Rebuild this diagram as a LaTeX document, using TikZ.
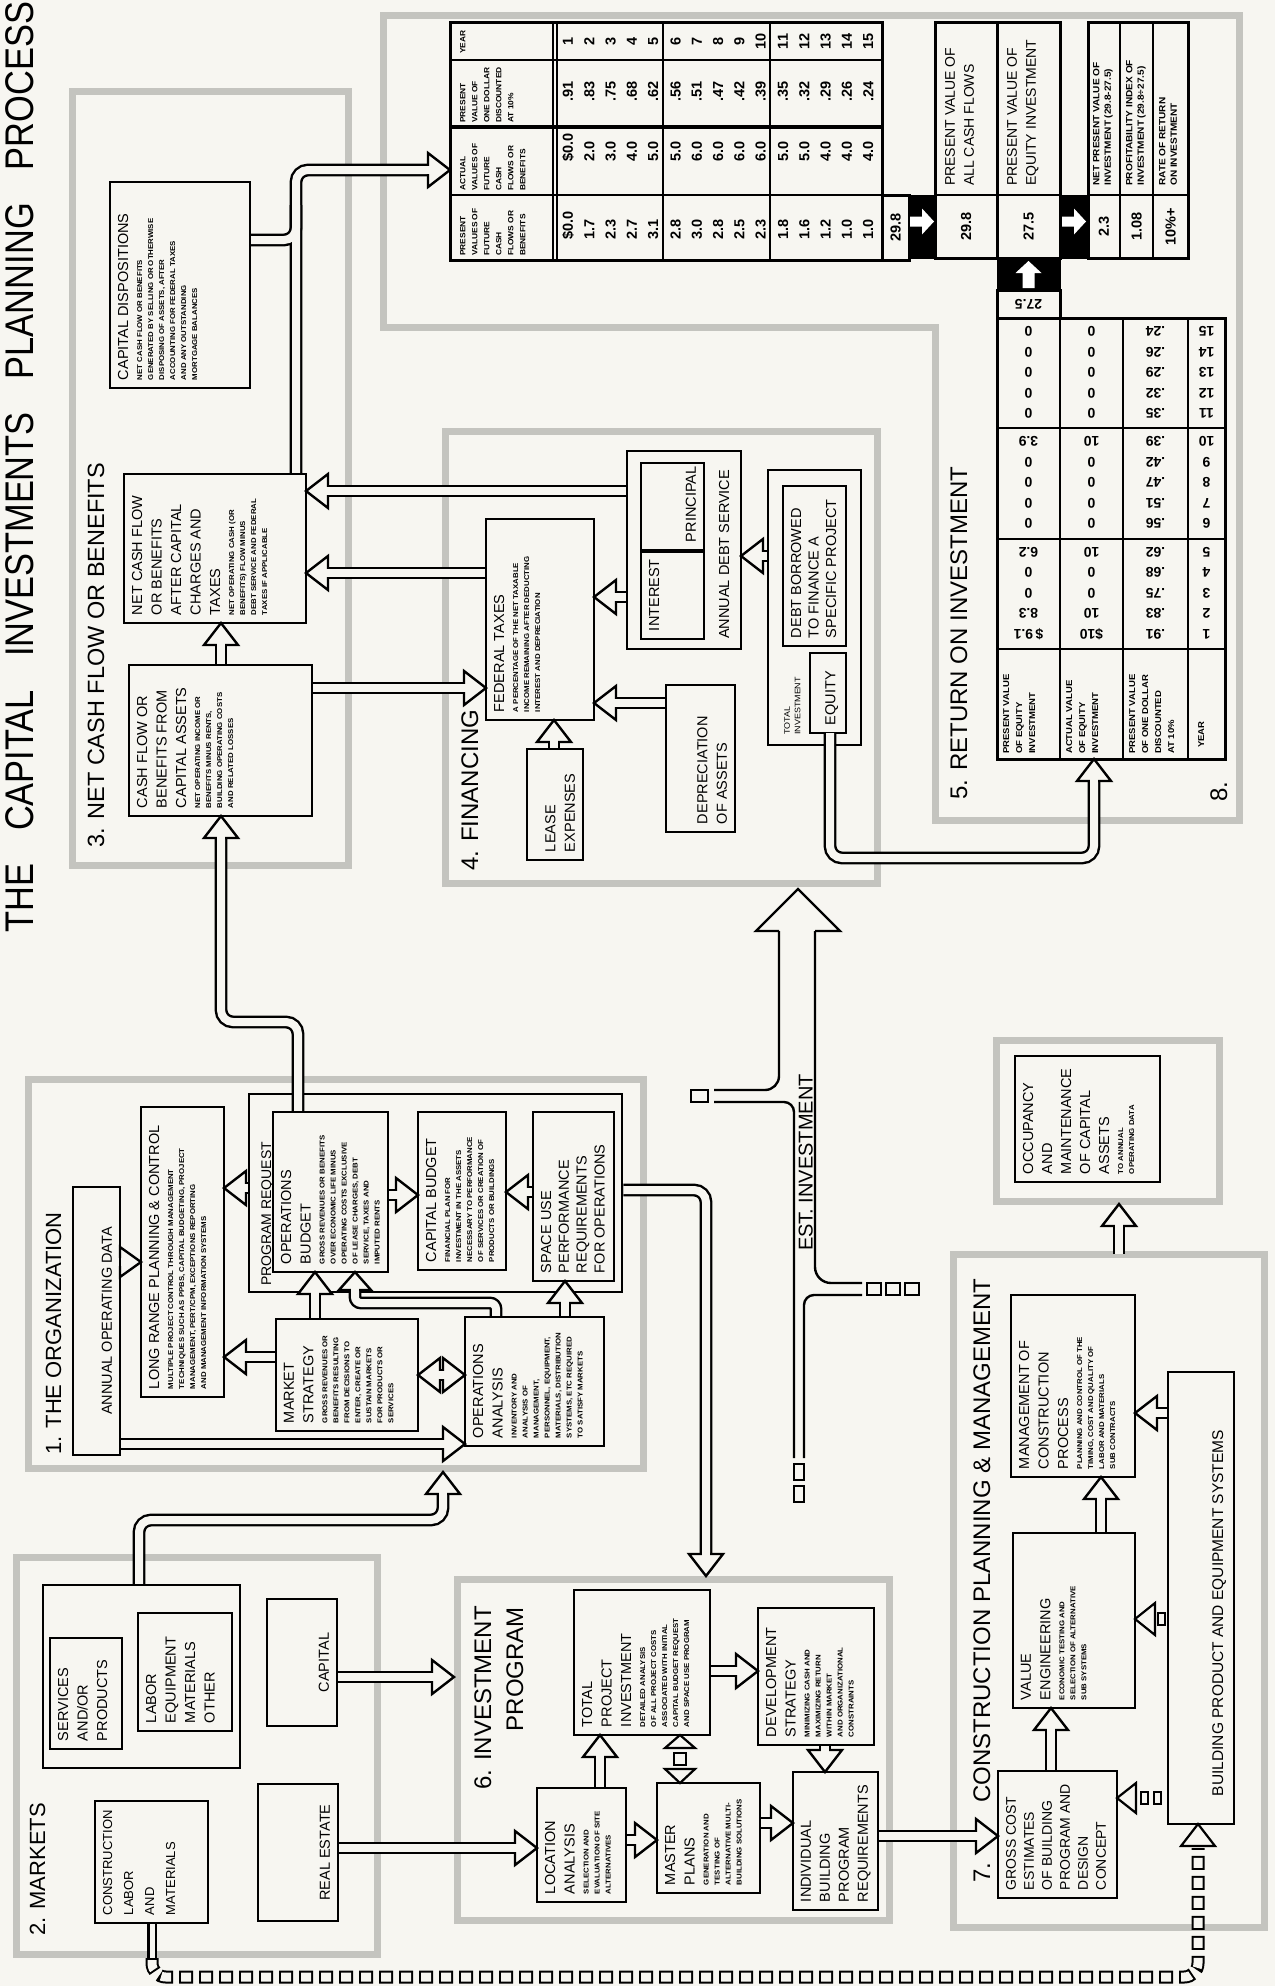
\documentclass[tikz,border=0pt]{standalone}
\usepackage{fontspec}
\setmainfont{Liberation Sans}
\newfontfamily\titlefont{Liberation Sans}[FakeStretch=0.86]
\newfontfamily\finefamily{Liberation Sans}[FakeStretch=1.12]
\usepackage{graphicx}
\usetikzlibrary{calc}

\newcommand{\hd}{\fontsize{14.5}{19.5}\selectfont}
\newcommand{\fine}{\par\vspace{3pt}\finefamily\bfseries\fontsize{7}{11}\selectfont}

% riquadro con testo ruotato: [stile]{nome}{x1}{y1}{x2}{y2}{testo}
\newcommand{\rbox}[7][]{%
  \pgfmathsetmacro\rw{#5-#3}%
  \pgfmathsetmacro\rh{#6-#4}%
  \node[box, #1, minimum width=\rw pt, minimum height=\rh pt] (#2)
    at ({(#3+#5)/2},{(#4+#6)/2})
    {\rotatebox{90}{\begin{minipage}[c][\dimexpr\rw pt-16pt\relax][t]{\dimexpr\rh pt-16pt\relax}%
     \raggedright\hd #7\end{minipage}}};}

% punta cava: {punta}{angolo}{lunghezza}{semilarghezza}
\newcommand{\ahead}[4]{%
  \begin{scope}[shift={#1}, rotate=#2]
    \draw[line width=2.4pt, fill=paper, line join=miter] (0,0) -- (-#3,-#4) -- (-#3,#4) -- cycle;
    \fill[paper] ({-#3-1.7},-3.8) rectangle ({-#3+1.7},3.8);
  \end{scope}}
\newcommand{\aheadc}[4]{%
  \begin{scope}[shift={#1}, rotate=#2]
    \draw[line width=2.2pt, fill=paper, line join=miter] (0,0) -- (-#3,-#4) -- (-#3,#4) -- cycle;
  \end{scope}}
% condotto diritto con punta
\newcommand{\parrow}[3]{%
  \draw[pipe] #1 -- ($#2!22pt!#1$);
  \ahead{#2}{#3}{22}{17}}

\begin{document}
\begin{tikzpicture}[x=1pt, y=-1pt,
    box/.style={draw=black, line width=2.6pt, fill=paper, inner sep=0pt, outer sep=0pt},
    thinbox/.style={line width=1.4pt},
    frame/.style={draw=framegray, line width=7pt, fill=none},
    tabbox/.style={box, line width=3pt},
    blk/.style={draw=black, fill=black, line width=1pt, inner sep=0pt, outer sep=0pt},
    lbl/.style={rotate=90, anchor=base west, inner sep=0pt, font=\fontsize{24}{24}\selectfont},
    pipe/.style={draw=black, line width=2.4pt, double=paper, double distance=8pt, rounded corners=12pt},
    pipeb/.style={draw=black, line width=12.8pt, rounded corners=12pt},
    pipew/.style={draw=paper, line width=8pt, rounded corners=12pt},
    sq/.style={draw=black, line width=2pt, fill=paper},
    chainb/.style={draw=black, line width=13pt, dash pattern=on 14pt off 6pt, rounded corners=14pt},
    chainw/.style={draw=paper, line width=9pt, dash pattern=on 10pt off 10pt, dash phase=18pt, rounded corners=14pt},
    hdrtxt/.style={rotate=90, anchor=north west, inner sep=0pt, align=left, font=\finefamily\bfseries\fontsize{7.5}{12}\selectfont},
    eqhdr/.style={hdrtxt, font=\finefamily\bfseries\fontsize{8.5}{13}\selectfont},
    restxt/.style={hdrtxt, font=\finefamily\bfseries\fontsize{9}{11.5}\selectfont},
    pvtxt/.style={rotate=90, anchor=north west, inner sep=0pt, align=left, font=\fontsize{14}{19}\selectfont},
    val/.style={rotate=90, inner sep=0pt, font=\bfseries\fontsize{14.5}{14.5}\selectfont},
    valdown/.style={rotate=180, inner sep=0pt, font=\bfseries\fontsize{14}{14}\selectfont}
  ]
  % Definizione colori
  \definecolor{paper}{RGB}{247,246,241}
  \definecolor{framegray}{RGB}{196,196,191}

  \useasboundingbox (0,0) rectangle (1275,1986);
  \fill[paper] (0,0) rectangle (1275,1986);

  % Cornici delle sezioni
  \rbox[frame]{f3}{72}{91}{348}{865}{}
  \rbox[frame]{f4}{445}{431}{877}{883}{}
  \rbox[frame]{f1}{28}{1079}{643}{1468}{}
  \rbox[frame]{f2}{16}{1557}{377}{1954}{}
  \rbox[frame]{f6}{457}{1579}{889}{1920}{}
  \rbox[frame]{f7}{953}{1254}{1264}{1927}{}
  \rbox[frame]{fo}{996}{1040}{1219}{1201}{}
  \draw[draw=framegray, line width=7pt, line join=miter] (383,15) -- (1239,15) -- (1239,820)
    -- (935,820) -- (935,327) -- (383,327) -- cycle;

  % Titolo e nomi delle sezioni
  \node[rotate=90, anchor=base west, inner sep=0pt, font={\titlefont\fontsize{40}{40}\selectfont}] (title)
    at (33,933) {\makebox[931pt][s]{THE\hfill CAPITAL\hfill INVESTMENTS\hfill PLANNING\hfill PROCESS}};
  \node[lbl, font=\fontsize{23.5}{24}\selectfont] (lab3) at (104,848) {3. NET CASH FLOW OR BENEFITS};
  \node[lbl] (lab4) at (478,871) {4. FINANCING};
  \node[lbl] (lab5) at (967,800) {5. RETURN ON INVESTMENT};
  \node[lbl] (lab8) at (1227,802) {8.};
  \node[lbl, font=\fontsize{22}{22}\selectfont] (lab1) at (61,1455) {1. THE ORGANIZATION};
  \node[lbl, font=\fontsize{22}{22}\selectfont] (lab2) at (45,1936) {2. MARKETS};
  \node[lbl] (lab6) at (491,1790) {6. INVESTMENT};
  \node[lbl, anchor=base east] (lab6b) at (523,1607) {PROGRAM};
  \node[lbl, font=\fontsize{24}{24}\selectfont] (lab7) at (990,1883) {7.};
  \node[lbl, font=\fontsize{24}{24}\selectfont] (lab7b) at (990,1803) {CONSTRUCTION PLANNING \& MANAGEMENT};

  % Sezione 3
  \rbox{capdisp}{110}{182}{250}{388}{CAPITAL DISPOSITIONS \fine NET CASH FLOW OR BENEFITS\\ GENERATED BY SELLING OR OTHERWISE\\ DISPOSING OF ASSETS, AFTER\\ ACCOUNTING FOR FEDERAL TAXES\\ AND ANY OUTSTANDING\\ MORTGAGE BALANCES}
  \rbox{netflow}{124}{474}{306}{623}{NET CASH FLOW\\ OR BENEFITS\\ AFTER CAPITAL\\ CHARGES AND\\ TAXES \fine NET OPERATING CASH (OR\\ BENEFITS) FLOW MINUS\\ DEBT SERVICE AND FEDERAL\\ TAXES IF APPLICABLE}
  \rbox{cashflow}{129}{665}{312}{816}{CASH FLOW OR\\ BENEFITS FROM\\ CAPITAL ASSETS \fine NET OPERATING INCOME OR\\ BENEFITS MINUS RENTS,\\ BUILDING OPERATING COSTS\\ AND RELATED LOSSES}

  % Sezione 4
  \rbox{fedtax}{486}{519}{594}{720}{FEDERAL TAXES \fine A PERCENTAGE OF THE NET TAXABLE\\ INCOME REMAINING AFTER DEDUCTING\\ INTEREST AND DEPRECIATION}
  \rbox{lease}{527}{749}{583}{860}{\vfill LEASE\\ EXPENSES\vfill}
  \rbox{debtserv}{627}{451}{741}{649}{}
  \rbox[thinbox]{interest}{641}{552}{704}{639}{INTEREST}
  \rbox[thinbox]{principal}{641}{463}{704}{550}{\vfill PRINCIPAL}
  \node[lbl, font=\hd] (dslab) at (729,639) {ANNUAL DEBT SERVICE};
  \rbox{deprec}{666}{685}{735}{832}{\vfill DEPRECIATION\\ OF ASSETS\vfill}
  \rbox{totinv}{768}{470}{861}{745}{}
  \rbox[thinbox]{debt}{783}{486}{846}{646}{\fontsize{14.5}{17.5}\selectfont DEBT BORROWED\\ TO FINANCE A\\ SPECIFIC PROJECT}
  \rbox[thinbox]{equity}{810}{653}{846}{733}{\vfill EQUITY\vfill}
  \node[rotate=90, anchor=north west, inner sep=0pt, align=left, font=\finefamily\fontsize{8}{10.5}\selectfont] (totlab)
    at (784,735) {TOTAL\\ INVESTMENT};

  % Sezione 5: tabella dei flussi futuri
  \node[tabbox, minimum width=432pt, minimum height=238pt] (cftable) at (666,141) {};
  \foreach \xx in {553,557,663,770} \draw[line width=2pt] (\xx,0 |- cftable.north) -- (\xx,0 |- cftable.south);
  \foreach \yy in {60,195} \draw[line width=2pt] (cftable.west |- 0,\yy) -- (cftable.east |- 0,\yy);
  \draw[line width=3.2pt] (cftable.west |- 0,127) -- (cftable.east |- 0,127);
  \node[hdrtxt] (hyear) at (460,54) {YEAR};
  \node[hdrtxt] (hpvd) at (460,123) {PRESENT\\ VALUE OF\\ ONE DOLLAR\\ DISCOUNTED\\ AT 10\%};
  \node[hdrtxt] (hact) at (460,191) {ACTUAL\\ VALUES OF\\ FUTURE\\ CASH\\ FLOWS OR\\ BENEFITS};
  \node[hdrtxt] (hpvf) at (460,256) {PRESENT\\ VALUES OF\\ FUTURE\\ CASH\\ FLOWS OR\\ BENEFITS};
  \foreach \v [count=\i] in {\$0.0,1.7,2.3,2.7,3.1,2.8,3.0,2.8,2.5,2.3,1.8,1.6,1.2,1.0,1.0}{
    \pgfmathtruncatemacro\bb{(\i-1)/5}
    \pgfmathtruncatemacro\kk{\i-1-5*\bb}
    \node[val, anchor=west] (pvf\i) at ({568+107.5*\bb+21.3*\kk},240) {\v};}
  \foreach \v [count=\i] in {\$0.0,2.0,3.0,4.0,5.0,5.0,6.0,6.0,6.0,6.0,5.0,5.0,4.0,4.0,4.0}{
    \pgfmathtruncatemacro\bb{(\i-1)/5}
    \pgfmathtruncatemacro\kk{\i-1-5*\bb}
    \node[val, anchor=west] (act\i) at ({568+107.5*\bb+21.3*\kk},162) {\v};}
  \foreach \v [count=\i] in {.91,.83,.75,.68,.62,.56,.51,.47,.42,.39,.35,.32,.29,.26,.24}{
    \pgfmathtruncatemacro\bb{(\i-1)/5}
    \pgfmathtruncatemacro\kk{\i-1-5*\bb}
    \node[val, anchor=west] (pvd\i) at ({568+107.5*\bb+21.3*\kk},102) {\v};}
  \foreach \i in {1,...,15}{
    \pgfmathtruncatemacro\bb{(\i-1)/5}
    \pgfmathtruncatemacro\kk{\i-1-5*\bb}
    \node[val] (yr\i) at ({568+107.5*\bb+21.3*\kk},41.5) {\i};}

  % Sezione 5: riepilogo
  \node[tabbox, minimum width=27pt, minimum height=65pt, font=\bfseries\fontsize{14.5}{14.5}\selectfont] (c298) at (895.5,227.5) {\rotatebox{90}{29.8}};
  \node[blk, minimum width=26pt, minimum height=63pt] (blk1) at (922,226.5) {};
  \node[tabbox, minimum width=62pt, minimum height=236pt] (pvall) at (966,140) {};
  \node[tabbox, minimum width=63pt, minimum height=236pt] (pveq) at (1028.5,140) {};
  \node[blk, minimum width=28pt, minimum height=63pt] (blk2) at (1074,226.5) {};
  \node[tabbox, minimum width=100pt, minimum height=236pt] (results) at (1138,140) {};
  \draw[line width=2pt] (pvall.west |- 0,195) -- (pveq.east |- 0,195);
  \draw[line width=2pt] (results.west |- 0,195) -- (results.east |- 0,195);
  \foreach \xx in {1120,1153} \draw[line width=2pt] (\xx,0 |- results.north) -- (\xx,0 |- results.south);
  \node[pvtxt] (pvalllab) at (945,186) {PRESENT VALUE OF\\ ALL CASH FLOWS};
  \node[val] (pvallval) at (966,226.5) {29.8};
  \node[pvtxt] (pveqlab) at (1007,186) {PRESENT VALUE OF\\ EQUITY INVESTMENT};
  \node[val] (pveqval) at (1028.5,226.5) {27.5};
  \node[restxt] (npvlab) at (1093,186) {NET PRESENT VALUE OF\\ INVESTMENT (29.8-27.5)};
  \node[restxt] (pilab) at (1126,186) {PROFITABILITY INDEX OF\\ INVESTMENT (29.8÷27.5)};
  \node[restxt] (rrlab) at (1159,186) {RATE OF RETURN\\ ON INVESTMENT};
  \node[val] (npvval) at (1104,226.5) {2.3};
  \node[val] (pival) at (1136.5,226.5) {1.08};
  \node[val] (rrval) at (1170.5,226.5) {10\%+};
  \node[blk, minimum width=63pt, minimum height=32pt] (blk3) at (1028.5,274) {};
  \node[tabbox, minimum width=63pt, minimum height=28pt, font=\bfseries\fontsize{14}{14}\selectfont] (eq275) at (1028.5,304) {\rotatebox{180}{27.5}};
  \fill[white, shift={(blk1.center)}] (-12,-10) -- (0,-10) -- (0,-18) -- (12,-5) -- (0,8) -- (0,0) -- (-12,0) -- cycle;
  \fill[white, shift={(blk2.center)}] (-12,-10) -- (0,-10) -- (0,-18) -- (12,-5) -- (0,8) -- (0,0) -- (-12,0) -- cycle;
  \fill[white, shift={(blk3.center)}] (-6,14) -- (-6,-1) -- (-13,-1) -- (0,-13) -- (13,-1) -- (6,-1) -- (6,14) -- cycle;

  % Sezione 5: tabella del capitale proprio
  \node[tabbox, minimum width=228pt, minimum height=441pt] (eqtable) at (1111,538.5) {};
  \foreach \xx in {1060,1123,1188} \draw[line width=2pt] (\xx,0 |- eqtable.north) -- (\xx,0 |- eqtable.south);
  \foreach \yy in {428,539,649} \draw[line width=2pt] (eqtable.west |- 0,\yy) -- (eqtable.east |- 0,\yy);
  \node[eqhdr] (epve) at (1003,754) {PRESENT VALUE\\ OF EQUITY\\ INVESTMENT};
  \node[eqhdr] (eact) at (1066,754) {ACTUAL VALUE\\ OF EQUITY\\ INVESTMENT};
  \node[eqhdr] (epvd) at (1129,754) {PRESENT VALUE\\ OF ONE DOLLAR\\ DISCOUNTED\\ AT 10\%};
  \node[eqhdr] (eyear) at (1198,748) {YEAR};
  \foreach \v [count=\i] in {\$\,9.1,8.3,0,0,6.2,0,0,0,0,3.9,0,0,0,0,0}{
    \pgfmathtruncatemacro\bb{(\i-1)/5}
    \pgfmathtruncatemacro\kk{\i-1-5*\bb}
    \node[valdown] (pve\i) at (1028.5,{634-110.3*\bb-20.5*\kk}) {\v};}
  \foreach \v [count=\i] in {\$10,10,0,0,10,0,0,0,0,10,0,0,0,0,0}{
    \pgfmathtruncatemacro\bb{(\i-1)/5}
    \pgfmathtruncatemacro\kk{\i-1-5*\bb}
    \node[valdown] (ave\i) at (1091.5,{634-110.3*\bb-20.5*\kk}) {\v};}
  \foreach \v [count=\i] in {.91,.83,.75,.68,.62,.56,.51,.47,.42,.39,.35,.32,.29,.26,.24}{
    \pgfmathtruncatemacro\bb{(\i-1)/5}
    \pgfmathtruncatemacro\kk{\i-1-5*\bb}
    \node[valdown] (dve\i) at (1155.5,{634-110.3*\bb-20.5*\kk}) {\v};}
  \foreach \i in {1,...,15}{
    \pgfmathtruncatemacro\bb{(\i-1)/5}
    \pgfmathtruncatemacro\kk{\i-1-5*\bb}
    \node[valdown] (eyr\i) at (1206.5,{634-110.3*\bb-20.5*\kk}) {\i};}

  % Sezione 1
  \rbox{aod}{73}{1187}{120}{1455}{\vfill\centering ANNUAL OPERATING DATA\vfill}
  \rbox{lrp}{141}{1107}{224}{1397}{LONG RANGE PLANNING \& CONTROL \fine MULTIPLE PROJECT CONTROL THROUGH MANAGEMENT\\ TECHNIQUES SUCH AS PPBS, CAPITAL BUDGETING, PROJECT\\ MANAGEMENT, PERT/CPM, EXCEPTIONS REPORTING\\ AND MANAGEMENT INFORMATION SYSTEMS}
  \rbox{preq}{249}{1094}{622}{1292}{}
  \node[lbl, font=\fontsize{14}{14}\selectfont] (preqlab) at (271,1286) {PROGRAM REQUEST};
  \rbox{opbudget}{273}{1112}{388}{1272}{OPERATIONS\\ BUDGET \fine GROSS REVENUES OR BENEFITS\\ OVER ECONOMIC LIFE MINUS\\ OPERATING COSTS EXCLUSIVE\\ OF LEASE CHARGES, DEBT\\ SERVICE, TAXES AND\\ IMPUTED RENTS}
  \rbox{capbudget}{418}{1112}{506}{1270}{CAPITAL BUDGET \fine FINANCIAL PLAN FOR\\ INVESTMENT IN THE ASSETS\\ NECESSARY TO PERFORMANCE\\ OF SERVICES OR CREATION OF\\ PRODUCTS OR BUILDINGS}
  \rbox{spaceuse}{533}{1112}{614}{1281}{\fontsize{14.5}{17.8}\selectfont SPACE USE\\ PERFORMANCE\\ REQUIREMENTS\\ FOR OPERATIONS}
  \rbox{mktstrat}{276}{1319}{418}{1431}{MARKET\\ STRATEGY \fine GROSS REVENUES OR\\ BENEFITS RESULTING\\ FROM DECISIONS TO\\ ENTER, CREATE OR\\ SUSTAIN MARKETS\\ FOR PRODUCTS OR\\ SERVICES}
  \rbox{opanalysis}{465}{1317}{604}{1446}{OPERATIONS\\ ANALYSIS \fine INVENTORY AND\\ ANALYSIS OF\\ MANAGEMENT,\\ PERSONNEL, EQUIPMENT,\\ MATERIALS, DISTRIBUTION\\ SYSTEMS, ETC REQUIRED\\ TO SATISFY MARKETS}

  % Sezione 2
  \rbox{svcouter}{43}{1585}{240}{1768}{}
  \rbox[thinbox]{services}{50}{1638}{122}{1749}{SERVICES\\ AND/OR\\ PRODUCTS}
  \rbox[thinbox]{labor}{138}{1613}{232}{1731}{LABOR\\ EQUIPMENT\\ MATERIALS\\ OTHER}
  \rbox{capital}{267}{1599}{337}{1726}{\vfill\centering CAPITAL\vfill}
  \rbox{realest}{258}{1784}{338}{1921}{\vfill\centering REAL ESTATE\vfill}
  \rbox{constr}{95}{1801}{208}{1923}{\fontsize{13}{21}\selectfont CONSTRUCTION\\ LABOR\\ AND\\ MATERIALS}

  % Sezione 6
  \rbox{totproj}{574}{1590}{710}{1735}{TOTAL\\ PROJECT\\ INVESTMENT \fine DETAILED ANALYSIS\\ OF ALL PROJECT COSTS\\ ASSOCIATED WITH INITIAL\\ CAPITAL BUDGET REQUEST\\ AND SPACE USE PROGRAM}
  \rbox{devstrat}{758}{1608}{874}{1745}{DEVELOPMENT\\ STRATEGY \fine MINIMIZING CASH AND\\ MAXIMIZING RETURN\\ WITHIN MARKET\\ AND ORGANIZATIONAL\\ CONSTRAINTS}
  \rbox{location}{537}{1788}{626}{1902}{LOCATION\\ ANALYSIS \fine SELECTION AND\\ EVALUATION OF SITE\\ ALTERNATIVES}
  \rbox{masterpl}{657}{1783}{760}{1893}{MASTER\\ PLANS \fine GENERATION AND\\ TESTING OF\\ ALTERNATIVE MULTI-\\ BUILDING SOLUTIONS}
  \rbox{indbuild}{793}{1772}{878}{1910}{\fontsize{14.5}{19}\selectfont INDIVIDUAL\\ BUILDING\\ PROGRAM\\ REQUIREMENTS}

  % Sezione 7 e occupazione
  \rbox{grosscost}{998}{1771}{1117}{1898}{\fontsize{14}{18}\selectfont GROSS COST\\ ESTIMATES\\ OF BUILDING\\ PROGRAM AND\\ DESIGN\\ CONCEPT}
  \rbox{valueeng}{1013}{1533}{1135}{1708}{VALUE\\ ENGINEERING \fine ECONOMIC TESTING AND\\ SELECTION OF ALTERNATIVE\\ SUB SYSTEMS}
  \rbox{mgmt}{1011}{1295}{1135}{1477}{MANAGEMENT OF\\ CONSTRUCTION\\ PROCESS \fine PLANNING AND CONTROL OF THE\\ TIMING, COST AND QUALITY OF\\ LABOR AND MATERIALS\\ SUB CONTRACTS}
  \rbox{bldprod}{1168}{1372}{1234}{1824}{\fontsize{15.5}{19}\selectfont\vfill\hspace*{20pt}BUILDING PRODUCT AND EQUIPMENT SYSTEMS\vfill}
  \rbox{occup}{1015}{1056}{1160}{1182}{\fontsize{14.5}{19}\selectfont OCCUPANCY\\ AND\\ MAINTENANCE\\ OF CAPITAL\\ ASSETS \fine TO ANNUAL\\ OPERATING DATA}

  % Condotti della sezione 3
  \parrow{(221,0 |- cashflow.north)}{(221,0 |- netflow.south)}{90}
  \draw[pipeb] (296,0 |- netflow.north) -- (296,170) -- ($(cftable.west |- 0,170)+(-22,0)$);
  \draw[pipeb] (capdisp.east |- 0,240) -- (296,240) -- (296,205);
  \draw[pipew] (296,0 |- netflow.north) -- (296,170) -- ($(cftable.west |- 0,170)+(-22,0)$);
  \draw[pipew] (capdisp.east |- 0,240) -- (296,240) -- (296,205);
  \ahead{(cftable.west |- 0,170)}{0}{22}{17}
  \draw[pipe] (298,0 |- opbudget.north) -- (298,1022) -- (221,1022) -- ($(221,0 |- cashflow.south)+(0,22)$);
  \ahead{(221,0 |- cashflow.south)}{90}{22}{17}

  % Condotti della sezione 4
  \parrow{(fedtax.west |- 0,573)}{(netflow.east |- 0,573)}{180}
  \parrow{(debtserv.west |- 0,491)}{(netflow.east |- 0,491)}{180}
  \parrow{(cashflow.east |- 0,688)}{(fedtax.west |- 0,688)}{0}
  \parrow{(debtserv.west |- 0,597)}{(fedtax.east |- 0,597)}{180}
  \parrow{(deprec.west |- 0,703)}{(fedtax.east |- 0,703)}{180}
  \parrow{(554,0 |- lease.north)}{(554,0 |- fedtax.south)}{90}
  \coordinate (debtout) at ($(totinv.west |- 0,556)+(-1.3,0)$);
  \parrow{(debtout)}{(debtserv.east |- 0,556)}{180}
  \draw[pipe] (830,0 |- equity.south) -- (830,858) -- (1094,858) -- ($(1094,0 |- eqtable.south)+(0,22)$);
  \ahead{(1094,0 |- eqtable.south)}{90}{22}{17}

  % Condotti della sezione 1
  \ahead{(lrp.west |- 0,1262)}{0}{21}{15}
  \parrow{(aod.east |- 0,1444)}{(opanalysis.west |- 0,1444)}{0}
  \coordinate (preqout) at ($(preq.west |- 0,1188)+(-1.3,0)$);
  \parrow{(preqout)}{(lrp.east |- 0,1188)}{180}
  \parrow{(mktstrat.west |- 0,1357)}{(lrp.east |- 0,1357)}{180}
  \parrow{(315,0 |- mktstrat.north)}{(315,0 |- opbudget.south)}{90}
  \draw[pipe, rounded corners=6pt] (496,0 |- opanalysis.north) -- (496,1303) -- (355,1303) -- ($(355,0 |- opbudget.south)+(0,18)$);
  \ahead{(355,0 |- opbudget.south)}{90}{18}{16}
  \parrow{(565,0 |- opanalysis.north)}{(565,0 |- spaceuse.south)}{90}
  \parrow{(opbudget.east |- 0,1195)}{(capbudget.west |- 0,1195)}{0}
  \parrow{(spaceuse.west |- 0,1192)}{(capbudget.east |- 0,1192)}{180}
  \draw[pipe] (440,1375) -- (443,1375);
  \ahead{(mktstrat.east |- 0,1375)}{180}{22}{17}
  \ahead{(opanalysis.west |- 0,1375)}{0}{22}{17}
  \coordinate (preqeast) at ($(preq.east |- 0,1190)+(1.3,0)$);
  \coordinate (progin) at ($(706,0 |- f6.north)+(0,-3)$);
  \draw[pipe] (preqeast) -- (706,1190) -- ($(progin)+(0,-22)$);
  \ahead{(progin)}{-90}{22}{17}

  % Condotti della sezione 2
  \coordinate (orgin) at ($(443,0 |- f1.south)+(0,4)$);
  \draw[pipe] (139,0 |- svcouter.north) -- (139,1520) -- (443,1520) -- ($(orgin)+(0,22)$);
  \ahead{(orgin)}{90}{22}{17}
  \coordinate (capin) at ($(f6.west |- 0,1677)+(-3,0)$);
  \parrow{(capital.east |- 0,1677)}{(capin)}{0}
  \parrow{(realest.east |- 0,1848)}{(location.west |- 0,1848)}{0}

  % Condotti della sezione 6
  \parrow{(600,0 |- location.north)}{(600,0 |- totproj.south)}{90}
  \aheadc{(680,0 |- totproj.south)}{90}{13}{15}
  \aheadc{(680,0 |- masterpl.north)}{-90}{14}{15}
  \draw[sq] (674,1753) rectangle (686,1765);
  \parrow{(totproj.east |- 0,1671)}{(devstrat.west |- 0,1671)}{0}
  \parrow{(location.east |- 0,1840)}{(masterpl.west |- 0,1840)}{0}
  \parrow{(masterpl.east |- 0,1823)}{(indbuild.west |- 0,1823)}{0}
  \parrow{(825,0 |- devstrat.south)}{(825,0 |- indbuild.north)}{-90}
  \parrow{(indbuild.east |- 0,1836)}{(grosscost.west |- 0,1836)}{0}

  % Condotti della sezione 7
  \parrow{(1051,0 |- grosscost.north)}{(1051,0 |- valueeng.south)}{90}
  \parrow{(1101,0 |- valueeng.north)}{(1101,0 |- mgmt.south)}{90}
  \parrow{(bldprod.west |- 0,1413)}{(mgmt.east |- 0,1413)}{180}
  \aheadc{(valueeng.east |- 0,1619)}{180}{20}{16}
  \draw[sq] (1158,1613) rectangle (1165,1625);
  \aheadc{(grosscost.east |- 0,1798)}{180}{19}{15}
  \draw[sq] (1141,1792) rectangle (1148,1804);
  \draw[sq] (1154,1792) rectangle (1161,1804);
  \coordinate (occin) at ($(1119,0 |- fo.south)+(0,3)$);
  \parrow{(1119,0 |- f7.north)}{(occin)}{90}

  % Freccia EST. INVESTMENT
  \begin{scope}[line width=2.4pt]
    \draw[fill=paper, line join=miter] (779,931) -- (756,931) -- (798,889) -- (840,931) -- (815,931);
    \draw[rounded corners=16pt] (815,931) -- (815,1283) -- (862,1283);
    \draw[rounded corners=14pt] (779,931) -- (779,1090) -- (714,1090);
    \draw[rounded corners=10pt] (714,1102) -- (794,1102) -- (794,1458);
    \draw[rounded corners=10pt] (862,1295) -- (804,1295) -- (804,1458);
  \end{scope}
  \draw[sq] (691,1090) rectangle (708,1102);
  \foreach \xx in {867,886,905} \draw[sq] (\xx,1283) rectangle ({\xx+14},1295);
  \foreach \yy in {1464,1486} \draw[sq] (794,\yy) rectangle (804,{\yy+16});
  \node[lbl, font=\fontsize{20}{20}\selectfont] (estlab) at (812.5,1251) {EST. INVESTMENT};

  % Catena dai materiali ai sistemi edilizi
  \draw[pipe, double distance=5pt, line width=2.2pt, rounded corners=0pt] (152,0 |- constr.south) -- (152,1958);
  \draw[chainb] (152,1958) -- (152,1977) -- (1198,1977) -- (1198,1848);
  \draw[chainw] (152,1958) -- (152,1977) -- (1198,1977) -- (1198,1848);
  \aheadc{(1198,0 |- bldprod.south)}{90}{22}{17}

  % Bordi ridisegnati sopra i condotti
  \foreach \n in {capdisp,netflow,cashflow,fedtax,lease,debtserv,deprec,aod,lrp,opbudget,capbudget,
      spaceuse,mktstrat,opanalysis,svcouter,capital,realest,constr,totproj,devstrat,location,
      masterpl,indbuild,grosscost,valueeng,mgmt,bldprod}
    \draw[line width=2.6pt] (\n.south west) rectangle (\n.north east);
  \foreach \n in {cftable,eqtable}
    \draw[line width=3pt] (\n.south west) rectangle (\n.north east);
\end{tikzpicture}
\end{document}
